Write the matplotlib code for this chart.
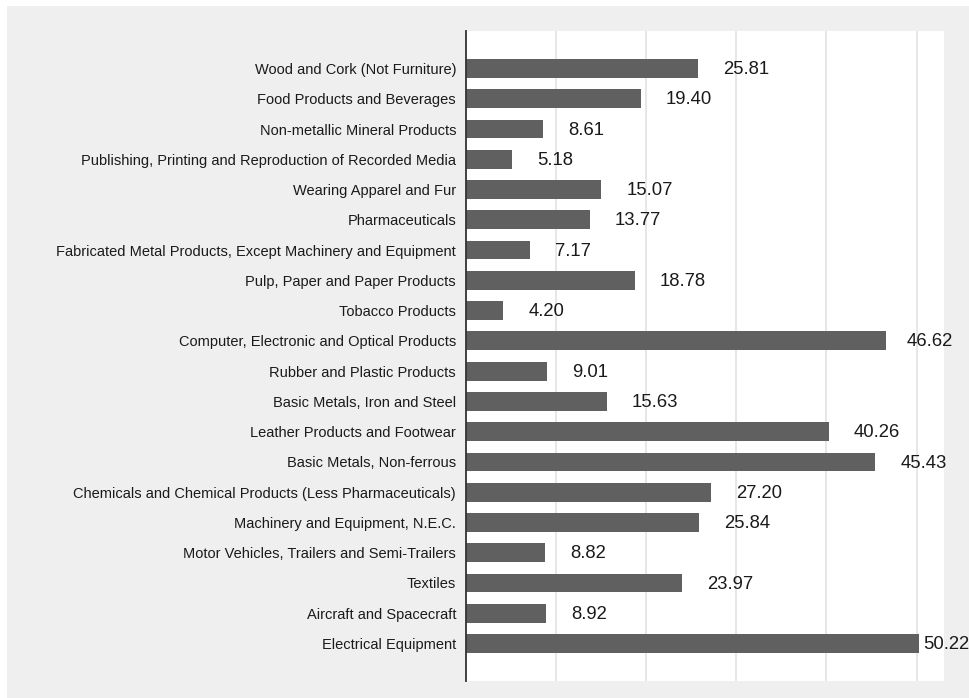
import matplotlib
matplotlib.use('Agg')
import matplotlib.pyplot as plt
from matplotlib.patches import Rectangle

categories = [
    'Wood and Cork (Not Furniture)',
    'Food Products and Beverages',
    'Non-metallic Mineral Products',
    'Publishing, Printing and Reproduction of Recorded Media',
    'Wearing Apparel and Fur',
    'Pharmaceuticals',
    'Fabricated Metal Products, Except Machinery and Equipment',
    'Pulp, Paper and Paper Products',
    'Tobacco Products',
    'Computer, Electronic and Optical Products',
    'Rubber and Plastic Products',
    'Basic Metals, Iron and Steel',
    'Leather Products and Footwear',
    'Basic Metals, Non-ferrous',
    'Chemicals and Chemical Products (Less Pharmaceuticals)',
    'Machinery and Equipment, N.E.C.',
    'Motor Vehicles, Trailers and Semi-Trailers',
    'Textiles',
    'Aircraft and Spacecraft',
    'Electrical Equipment',
]
values = [25.81, 19.40, 8.61, 5.18, 15.07, 13.77, 7.17, 18.78, 4.20, 46.62,
          9.01, 15.63, 40.26, 45.43, 27.20, 25.84, 8.82, 23.97, 8.92, 50.22]
grid_ticks = [10, 20, 30, 40, 50]

# gap between bar end and its label, in points
label_gap = [18] * len(values)
label_gap[9] = 15
label_gap[19] = 3

plt.rcParams['font.family'] = ['Liberation Sans', 'DejaVu Sans']

fig = plt.figure(figsize=(9.69, 6.98), dpi=100)
fig.patch.set_facecolor('white')
fig.patches.append(Rectangle((7 / 969, 0), 1, (698 - 6) / 698,
                             transform=fig.transFigure, facecolor='#efefef',
                             edgecolor='none', zorder=-10))

ax = fig.add_axes([465.5 / 969, 17 / 698, 478.2 / 969, 650 / 698])
ax.set_facecolor('white')

pos = list(range(len(categories)))
ax.barh(pos, values, height=0.62, color='#606060', zorder=3)

for y, v, gap in zip(pos, values, label_gap):
    ax.annotate(f'{v:.2f}', xy=(v, y), xytext=(gap, -0.8),
                textcoords='offset points', ha='left', va='center',
                fontsize=13.3, color='#1a1a1a')

ax.set_xlim(0, 53)
ax.set_ylim(len(categories) - 1 + 1.24, -1.24)
ax.set_yticks(pos)
ax.set_yticklabels(categories, fontsize=10.5, color='#1a1a1a')
ax.tick_params(axis='y', length=0, pad=6.8)
ax.set_xticks(grid_ticks)
ax.tick_params(axis='x', length=0, labelbottom=False)
ax.grid(axis='x', color='#e3e3e3', linewidth=1.2, zorder=0)

for side in ['top', 'right', 'bottom']:
    ax.spines[side].set_visible(False)
ax.spines['left'].set_color('#333333')
ax.spines['left'].set_linewidth(1.3)
ax.spines['left'].set_zorder(4)

fig.savefig('out.png', dpi=100)
